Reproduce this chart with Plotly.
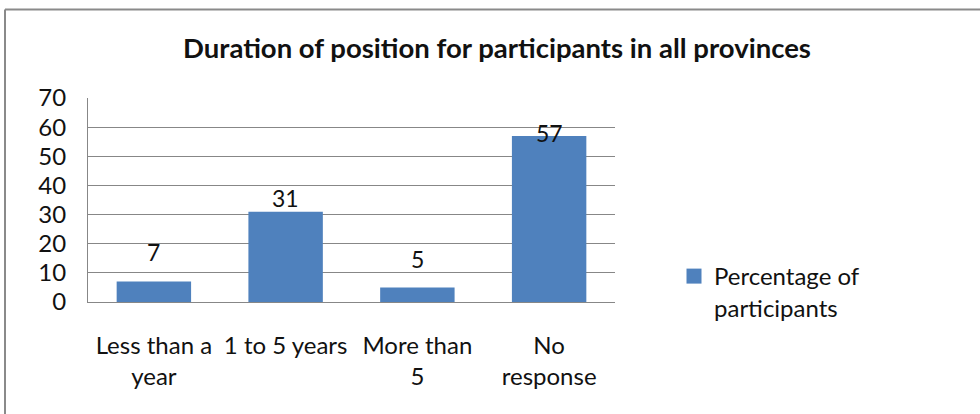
import plotly.graph_objects as go

categories = ["Less than a<br>year", "1 to 5 years", "More than<br>5", "No<br>response"]
percentages = [7, 31, 5, 57]
series_name = "Percentage of<br>participants"
title_text = "Duration of position for participants in all provinces"
y_ticks = [0, 10, 20, 30, 40, 50, 60, 70]

# label placement offsets (pixels above bar top), styling only
label_shift = [30, 14, 28, 3]

W, H = 980, 414
FONT = "Lato"
BAR = "#4F81BD"
GRID = "#878787"
TXT = "#111111"

fig = go.Figure()
fig.add_trace(go.Bar(
    x=categories, y=percentages, name=series_name,
    marker=dict(color=BAR, line=dict(width=0)),
    width=0.565, showlegend=False,
))
# legend entry drawn with a square marker like the original
fig.add_trace(go.Scatter(
    x=[None], y=[None], mode="markers", name=series_name,
    marker=dict(symbol="square", size=15, color=BAR), showlegend=True,
))

for c, v, s in zip(categories, percentages, label_shift):
    fig.add_annotation(x=c, y=v, xref="x", yref="y", text=str(v),
                       showarrow=False, yanchor="middle", yshift=s,
                       font=dict(family=FONT, size=23, color=TXT))

fig.update_layout(
    width=W, height=H,
    margin=dict(l=0, r=0, t=0, b=0, autoexpand=False),
    paper_bgcolor="white", plot_bgcolor="white",
    font=dict(family=FONT, size=24, color=TXT),
    title=dict(text="<b>" + title_text + "</b>", x=497 / W, xanchor="center",
               y=1 - 48 / H, yanchor="middle",
               font=dict(family=FONT, size=27.5, color=TXT)),
    showlegend=True,
    legend=dict(x=674 / W, xanchor="left", y=1 - 254 / H, yanchor="top",
                valign="top", font=dict(family=FONT, size=24, color=TXT),
                bgcolor="rgba(0,0,0,0)", itemwidth=30, tracegroupgap=0),
    bargap=0.44,
    xaxis=dict(domain=[88 / W, 615 / W], showgrid=False, showline=True,
               linecolor=GRID, linewidth=1, ticks="", tickfont=dict(size=24),
               ticklabelstandoff=22, automargin=False, fixedrange=True),
    yaxis=dict(domain=[1 - 302 / H, 1 - 98 / H], range=[0, 70],
               tickvals=y_ticks, showgrid=True, gridcolor=GRID, gridwidth=1,
               showline=True, linecolor=GRID, linewidth=1, zeroline=False,
               ticks="", tickfont=dict(size=24), ticklabelstandoff=16,
               automargin=False, fixedrange=True),
    shapes=[
        dict(type="line", xref="paper", yref="paper", x0=5 / W, x1=1, y0=1 - 9.5 / H, y1=1 - 9.5 / H,
             line=dict(color="#8a8a8a", width=2)),
        dict(type="line", xref="paper", yref="paper", x0=5 / W, x1=5 / W, y0=0, y1=1 - 9.5 / H,
             line=dict(color="#8a8a8a", width=2)),
    ],
)

fig.write_html("out.html", config={"displayModeBar": False},
               post_script="document.body.style.margin='0';")
